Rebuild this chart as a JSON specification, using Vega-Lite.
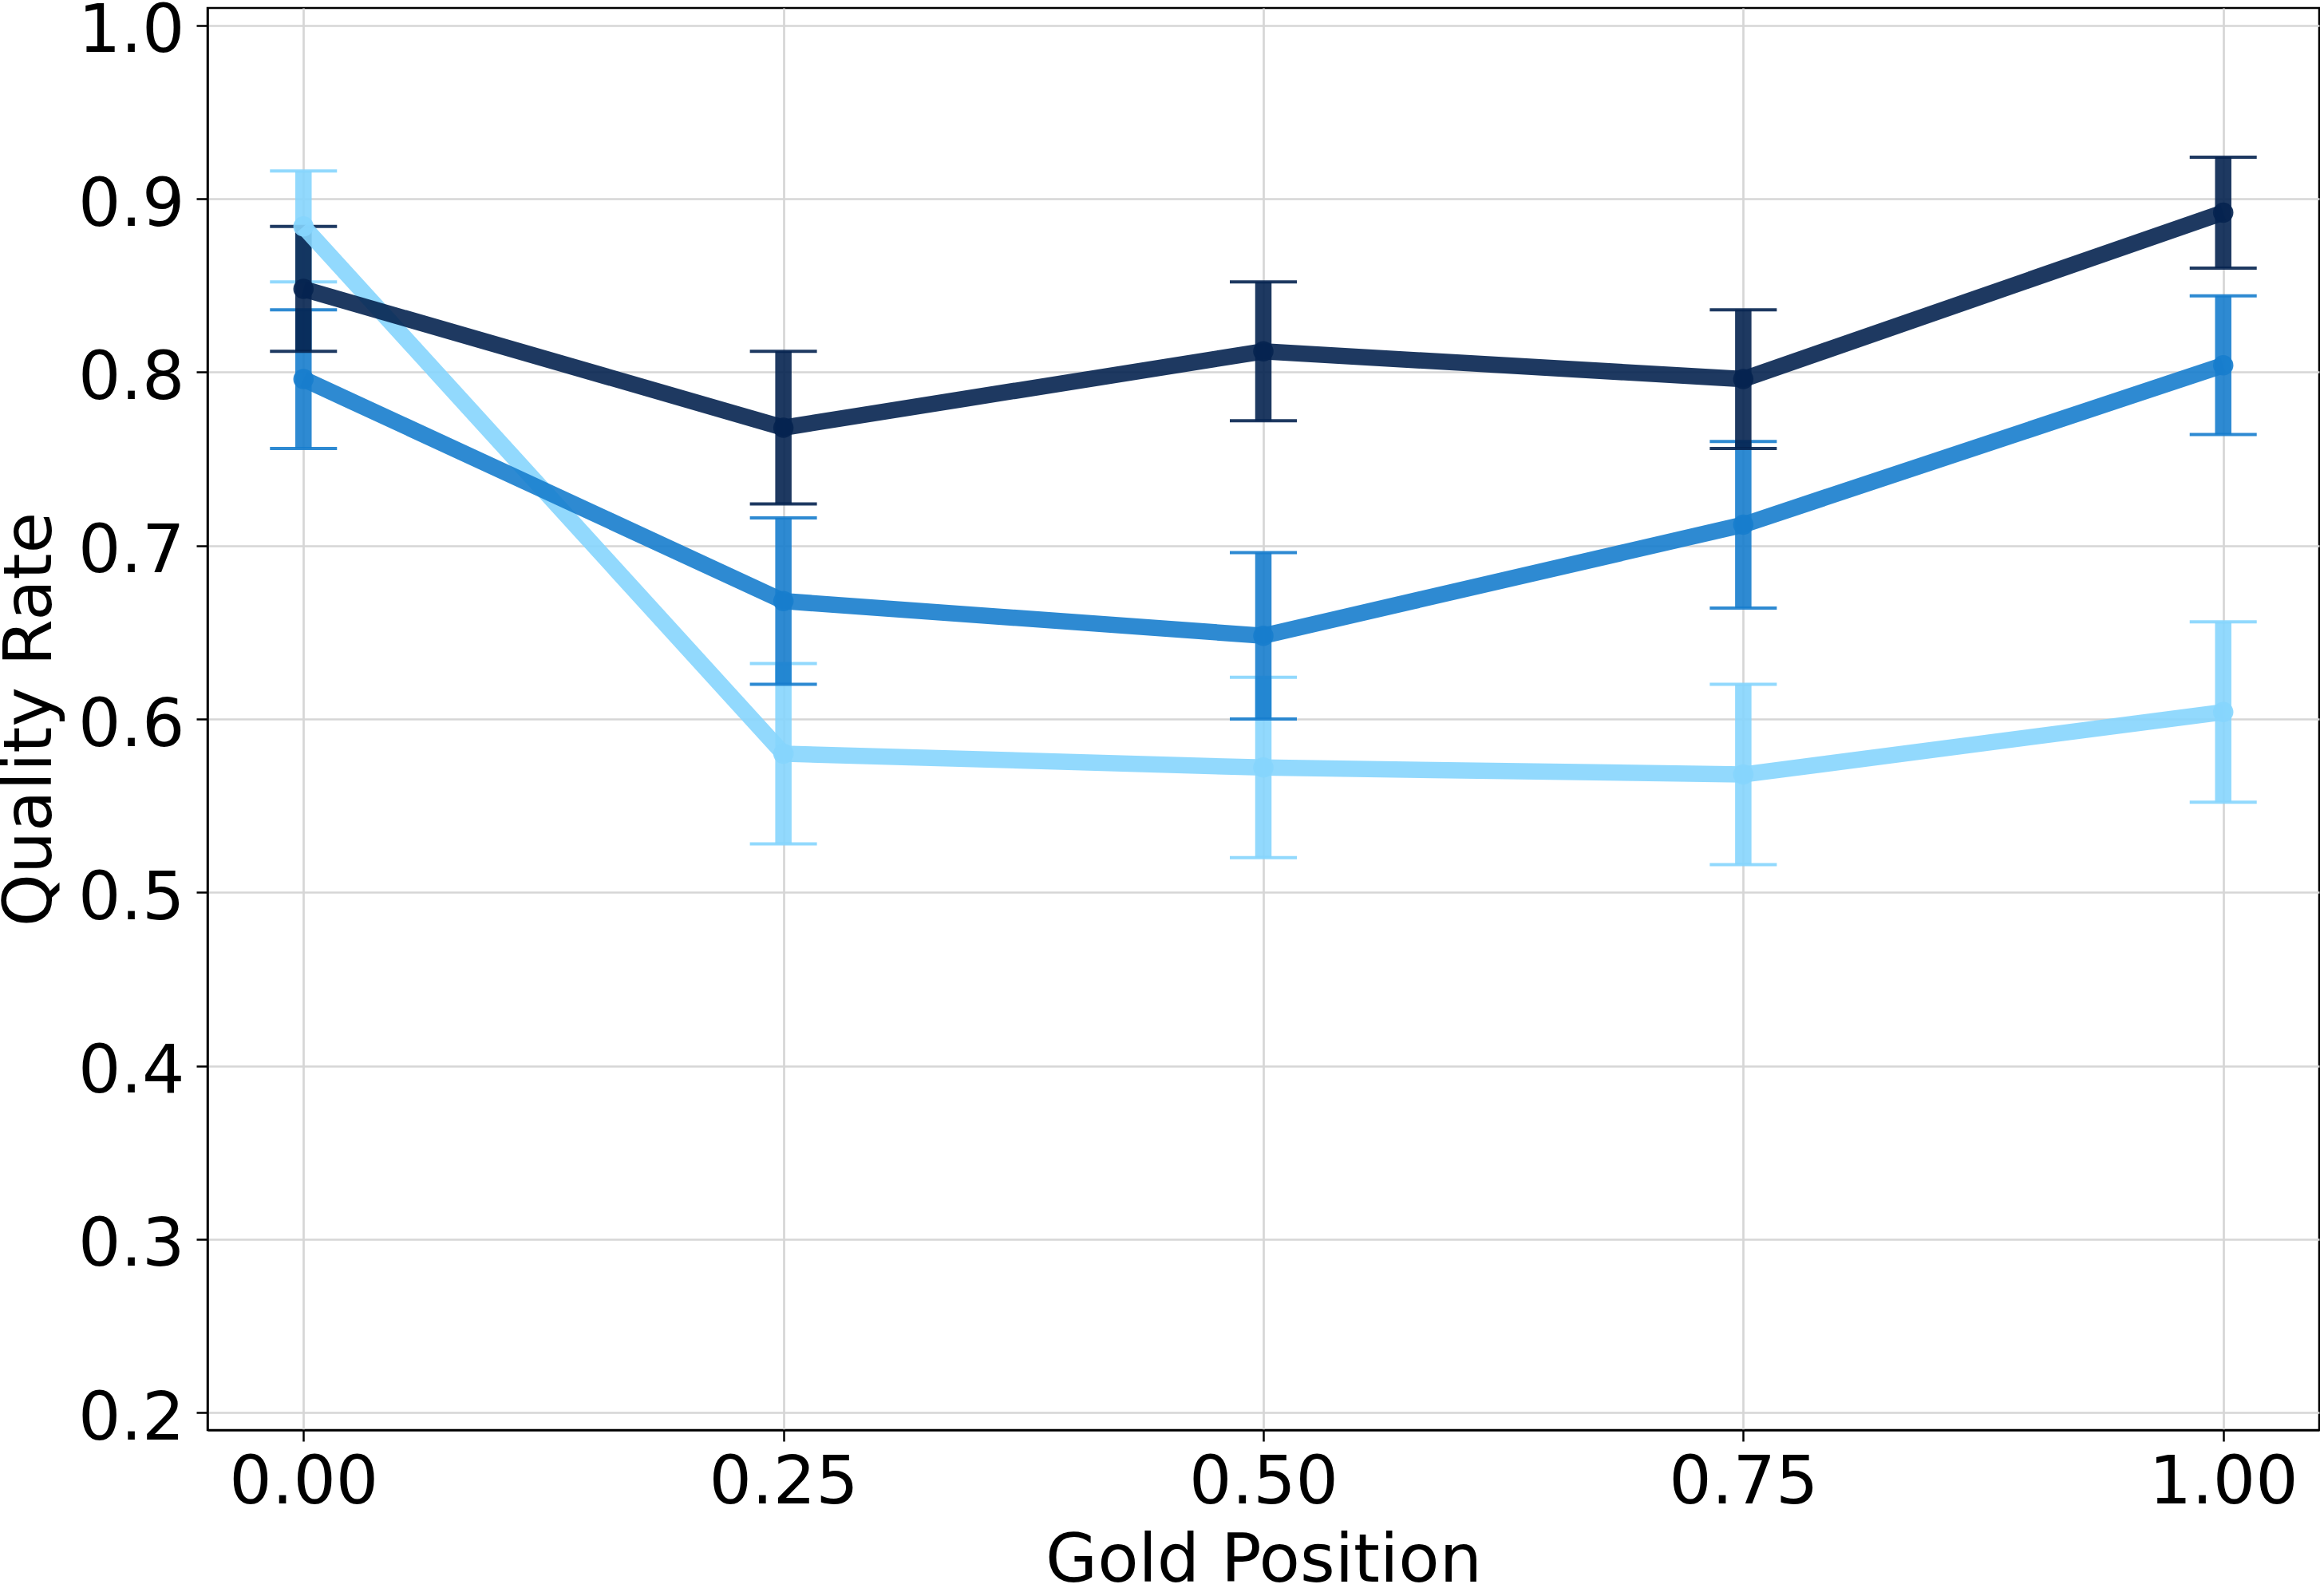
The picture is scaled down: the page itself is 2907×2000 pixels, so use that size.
{
  "$schema": "https://vega.github.io/schema/vega-lite/v6.json",
  "width": 2646,
  "height": 1782,
  "autosize": "none",
  "padding": {"left": 260, "top": 10, "right": 1, "bottom": 208},
  "background": "white",
  "config": {
    "view": {"stroke": "black", "strokeWidth": 2.5},
    "axis": {
      "domain": true,
      "domainColor": "black",
      "domainWidth": 2.5,
      "labelFont": "DejaVu Sans",
      "labelFontSize": 84,
      "labelColor": "black",
      "labelLimit": 1000,
      "titleFont": "DejaVu Sans",
      "titleFontSize": 84,
      "titleFontWeight": "normal",
      "titleColor": "black",
      "tickColor": "black",
      "tickSize": 14,
      "tickWidth": 2.5,
      "gridColor": "#d6d6d6",
      "gridWidth": 2.7
    }
  },
  "data": {
    "values": [
      {"series": "light", "pos": 0.0, "rate": 0.884, "lo": 0.852, "hi": 0.916},
      {"series": "light", "pos": 0.25, "rate": 0.580, "lo": 0.528, "hi": 0.632},
      {"series": "light", "pos": 0.5, "rate": 0.572, "lo": 0.520, "hi": 0.624},
      {"series": "light", "pos": 0.75, "rate": 0.568, "lo": 0.516, "hi": 0.620},
      {"series": "light", "pos": 1.0, "rate": 0.604, "lo": 0.552, "hi": 0.656},
      {"series": "medium", "pos": 0.0, "rate": 0.796, "lo": 0.756, "hi": 0.836},
      {"series": "medium", "pos": 0.25, "rate": 0.668, "lo": 0.620, "hi": 0.716},
      {"series": "medium", "pos": 0.5, "rate": 0.648, "lo": 0.600, "hi": 0.696},
      {"series": "medium", "pos": 0.75, "rate": 0.712, "lo": 0.664, "hi": 0.760},
      {"series": "medium", "pos": 1.0, "rate": 0.804, "lo": 0.764, "hi": 0.844},
      {"series": "dark", "pos": 0.0, "rate": 0.848, "lo": 0.812, "hi": 0.884},
      {"series": "dark", "pos": 0.25, "rate": 0.768, "lo": 0.724, "hi": 0.812},
      {"series": "dark", "pos": 0.5, "rate": 0.812, "lo": 0.772, "hi": 0.852},
      {"series": "dark", "pos": 0.75, "rate": 0.796, "lo": 0.756, "hi": 0.836},
      {"series": "dark", "pos": 1.0, "rate": 0.892, "lo": 0.860, "hi": 0.924}
    ]
  },
  "encoding": {
    "x": {
      "field": "pos",
      "type": "quantitative",
      "title": "Gold Position",
      "scale": {"domain": [-0.05, 1.05], "nice": false, "zero": false},
      "axis": {
        "values": [0, 0.25, 0.5, 0.75, 1],
        "format": ".2f",
        "labelPadding": 11,
        "titlePadding": 15
      }
    },
    "color": {
      "field": "series",
      "type": "nominal",
      "scale": {
        "domain": ["light", "medium", "dark"],
        "range": ["#86d5fd", "#177dcd", "#052450"]
      },
      "legend": null
    }
  },
  "layer": [
    {
      "transform": [{"filter": "datum.series === 'light'"}],
      "layer": [
        {"mark": {"type": "rule", "strokeWidth": 20.5, "opacity": 0.9},
         "encoding": {
           "y": {"field": "lo", "type": "quantitative", "title": "Quality Rate",
                 "scale": {"domain": [0.19, 1.01], "nice": false, "zero": false},
                 "axis": {"values": [0.2, 0.3, 0.4, 0.5, 0.6, 0.7, 0.8, 0.9, 1.0], "format": ".1f", "labelPadding": 15, "titlePadding": 16, "labelOffset": 8}},
           "y2": {"field": "hi"}}},
        {"mark": {"type": "tick", "orient": "horizontal", "size": 84, "thickness": 4, "opacity": 0.9},
         "encoding": {"y": {"field": "lo", "type": "quantitative", "title": "Quality Rate",
                 "scale": {"domain": [0.19, 1.01], "nice": false, "zero": false}}}},
        {"mark": {"type": "tick", "orient": "horizontal", "size": 84, "thickness": 4, "opacity": 0.9},
         "encoding": {"y": {"field": "hi", "type": "quantitative", "title": "Quality Rate",
                 "scale": {"domain": [0.19, 1.01], "nice": false, "zero": false}}}}
      ]
    },
    {
      "transform": [{"filter": "datum.series === 'medium'"}],
      "layer": [
        {"mark": {"type": "rule", "strokeWidth": 20.5, "opacity": 0.9},
         "encoding": {"y": {"field": "lo", "type": "quantitative", "title": "Quality Rate",
                 "scale": {"domain": [0.19, 1.01], "nice": false, "zero": false}},
           "y2": {"field": "hi"}}},
        {"mark": {"type": "tick", "orient": "horizontal", "size": 84, "thickness": 4, "opacity": 0.9},
         "encoding": {"y": {"field": "lo", "type": "quantitative", "title": "Quality Rate",
                 "scale": {"domain": [0.19, 1.01], "nice": false, "zero": false}}}},
        {"mark": {"type": "tick", "orient": "horizontal", "size": 84, "thickness": 4, "opacity": 0.9},
         "encoding": {"y": {"field": "hi", "type": "quantitative", "title": "Quality Rate",
                 "scale": {"domain": [0.19, 1.01], "nice": false, "zero": false}}}}
      ]
    },
    {
      "transform": [{"filter": "datum.series === 'dark'"}],
      "layer": [
        {"mark": {"type": "rule", "strokeWidth": 20.5, "opacity": 0.9},
         "encoding": {"y": {"field": "lo", "type": "quantitative", "title": "Quality Rate",
                 "scale": {"domain": [0.19, 1.01], "nice": false, "zero": false}},
           "y2": {"field": "hi"}}},
        {"mark": {"type": "tick", "orient": "horizontal", "size": 84, "thickness": 4, "opacity": 0.9},
         "encoding": {"y": {"field": "lo", "type": "quantitative", "title": "Quality Rate",
                 "scale": {"domain": [0.19, 1.01], "nice": false, "zero": false}}}},
        {"mark": {"type": "tick", "orient": "horizontal", "size": 84, "thickness": 4, "opacity": 0.9},
         "encoding": {"y": {"field": "hi", "type": "quantitative", "title": "Quality Rate",
                 "scale": {"domain": [0.19, 1.01], "nice": false, "zero": false}}}}
      ]
    },
    {
      "transform": [{"filter": "datum.series === 'light'"}],
      "layer": [
        {"mark": {"type": "line", "strokeWidth": 20.5, "opacity": 0.9},
         "encoding": {"y": {"field": "rate", "type": "quantitative", "title": "Quality Rate",
                 "scale": {"domain": [0.19, 1.01], "nice": false, "zero": false}}}},
        {"mark": {"type": "circle", "size": 650, "opacity": 0.9},
         "encoding": {"y": {"field": "rate", "type": "quantitative", "title": "Quality Rate",
                 "scale": {"domain": [0.19, 1.01], "nice": false, "zero": false}}}}
      ]
    },
    {
      "transform": [{"filter": "datum.series === 'medium'"}],
      "layer": [
        {"mark": {"type": "line", "strokeWidth": 20.5, "opacity": 0.9},
         "encoding": {"y": {"field": "rate", "type": "quantitative", "title": "Quality Rate",
                 "scale": {"domain": [0.19, 1.01], "nice": false, "zero": false}}}},
        {"mark": {"type": "circle", "size": 650, "opacity": 0.9},
         "encoding": {"y": {"field": "rate", "type": "quantitative", "title": "Quality Rate",
                 "scale": {"domain": [0.19, 1.01], "nice": false, "zero": false}}}}
      ]
    },
    {
      "transform": [{"filter": "datum.series === 'dark'"}],
      "layer": [
        {"mark": {"type": "line", "strokeWidth": 20.5, "opacity": 0.9},
         "encoding": {"y": {"field": "rate", "type": "quantitative", "title": "Quality Rate",
                 "scale": {"domain": [0.19, 1.01], "nice": false, "zero": false}}}},
        {"mark": {"type": "circle", "size": 650, "opacity": 0.9},
         "encoding": {"y": {"field": "rate", "type": "quantitative", "title": "Quality Rate",
                 "scale": {"domain": [0.19, 1.01], "nice": false, "zero": false}}}}
      ]
    }
  ]
}
